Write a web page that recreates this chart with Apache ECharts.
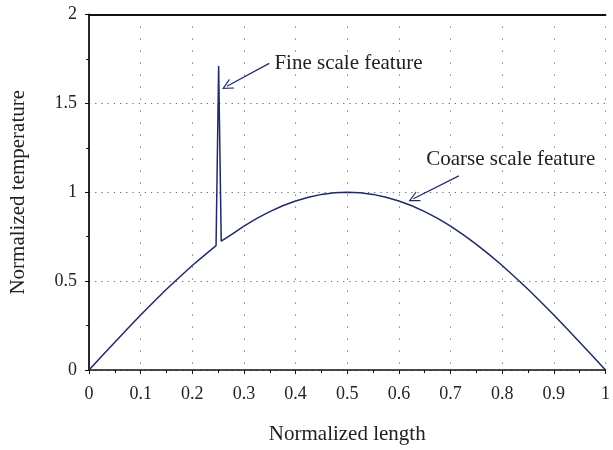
<!DOCTYPE html>
<html>
<head>
<meta charset="utf-8">
<script src="https://cdn.jsdelivr.net/npm/echarts@6/dist/echarts.min.js"></script>
<style>html,body{margin:0;padding:0;background:#fff;}#c{width:613px;height:450px;}</style>
</head>
<body>
<div id="c"></div>
<script>
// Data
var xValues = [0, 0.025, 0.05, 0.075, 0.1, 0.125, 0.15, 0.175, 0.2, 0.225, 0.246, 0.251, 0.256, 0.275,
  0.3, 0.325, 0.35, 0.375, 0.4, 0.425, 0.45, 0.475, 0.5, 0.525, 0.55, 0.575, 0.6, 0.625, 0.65, 0.675,
  0.7, 0.725, 0.75, 0.775, 0.8, 0.825, 0.85, 0.875, 0.9, 0.925, 0.95, 0.975, 1.0];
var temperature = [0, 0.079, 0.156, 0.233, 0.309, 0.383, 0.454, 0.522, 0.588, 0.649, 0.70, 1.71, 0.725, 0.760,
  0.809, 0.853, 0.891, 0.924, 0.951, 0.972, 0.988, 0.997, 1.0, 0.997, 0.988, 0.972, 0.951, 0.924, 0.891, 0.853,
  0.809, 0.760, 0.707, 0.649, 0.588, 0.522, 0.454, 0.383, 0.309, 0.233, 0.156, 0.079, 0];
var xTickLabels = ['0', '0.1', '0.2', '0.3', '0.4', '0.5', '0.6', '0.7', '0.8', '0.9', '1'];
var yTickLabels = ['0', '0.5', '1', '1.5', '2'];
var annotations = [
  {text: 'Fine scale feature', from: [0.349, 1.725], to: [0.267, 1.596], label: [0.359, 1.723]},
  {text: 'Coarse scale feature', from: [0.716, 1.092], to: [0.628, 0.963], label: [0.653, 1.186]}
];

var FONT = 'Liberation Serif';
var lineColor = '#1f2a6e';
var chevron = 'path://M0,0 L6,10 L4.6,10 L0,2.4 L-4.6,10 L-6,10 Z';

var seriesData = xValues.map(function (x, i) { return [x, temperature[i]]; });

var chart = echarts.init(document.getElementById('c'), null, {renderer: 'canvas'});
chart.setOption({
  animation: false,
  backgroundColor: '#fff',
  grid: {left: 88, right: 1, top: 14.5, bottom: 78, containLabel: false},
  xAxis: [{
    type: 'value', min: 0, max: 1, interval: 0.1, position: 'bottom',
    name: 'Normalized length', nameLocation: 'middle', nameGap: 54,
    nameTextStyle: {fontFamily: FONT, fontSize: 21, color: '#222'},
    axisLine: {show: true, onZero: false, lineStyle: {color: '#111', width: 1.5}},
    axisTick: {show: true, inside: false, length: 4, lineStyle: {color: '#111', width: 1}},
    minorTick: {show: true, splitNumber: 2, length: 3, lineStyle: {color: '#111', width: 1}},
    axisLabel: {fontFamily: FONT, fontSize: 18, color: '#222', margin: 15,
      formatter: function (v) { return xTickLabels[Math.round(v * 10)]; }},
    splitLine: {show: true, lineStyle: {color: '#666', width: 1, type: [1.2, 10.8]}}
  }, {
    type: 'value', min: 0, max: 1, position: 'top',
    axisLine: {show: true, onZero: false, lineStyle: {color: '#111', width: 1.8}},
    axisTick: {show: false}, axisLabel: {show: false}, splitLine: {show: false}
  }],
  yAxis: {
    type: 'value', min: 0, max: 2, interval: 0.5,
    name: 'Normalized temperature', nameLocation: 'middle', nameGap: 60,
    nameTextStyle: {fontFamily: FONT, fontSize: 21, color: '#222'},
    axisLine: {show: true, onZero: false, lineStyle: {color: '#111', width: 1.8}},
    axisTick: {show: true, inside: false, length: 4, lineStyle: {color: '#111', width: 1}},
    minorTick: {show: true, splitNumber: 2, length: 3, lineStyle: {color: '#111', width: 1}},
    axisLabel: {fontFamily: FONT, fontSize: 18, color: '#222', margin: 12,
      formatter: function (v) { return yTickLabels[Math.round(v * 2)]; }},
    splitLine: {show: true, lineStyle: {color: '#666', width: 1, type: [1.2, 5]}}
  },
  series: [{
    type: 'line', data: seriesData, showSymbol: false, symbol: 'none',
    lineStyle: {color: lineColor, width: 1.5}, z: 3,
    markLine: {
      silent: true, symbol: ['none', chevron], symbolSize: [11, 11],
      lineStyle: {color: lineColor, width: 1.2, type: 'solid'},
      label: {show: false},
      data: annotations.map(function (a) {
        return [{coord: a.from}, {coord: a.to}];
      })
    },
    markPoint: {
      silent: true, symbol: 'circle', symbolSize: 0,
      label: {show: true, position: 'right', distance: 0, fontFamily: FONT, fontSize: 21, color: '#222',
        formatter: function (p) { return p.name; }},
      data: annotations.map(function (a) { return {name: a.text, coord: a.label}; })
    }
  }]
});
</script>
</body>
</html>
